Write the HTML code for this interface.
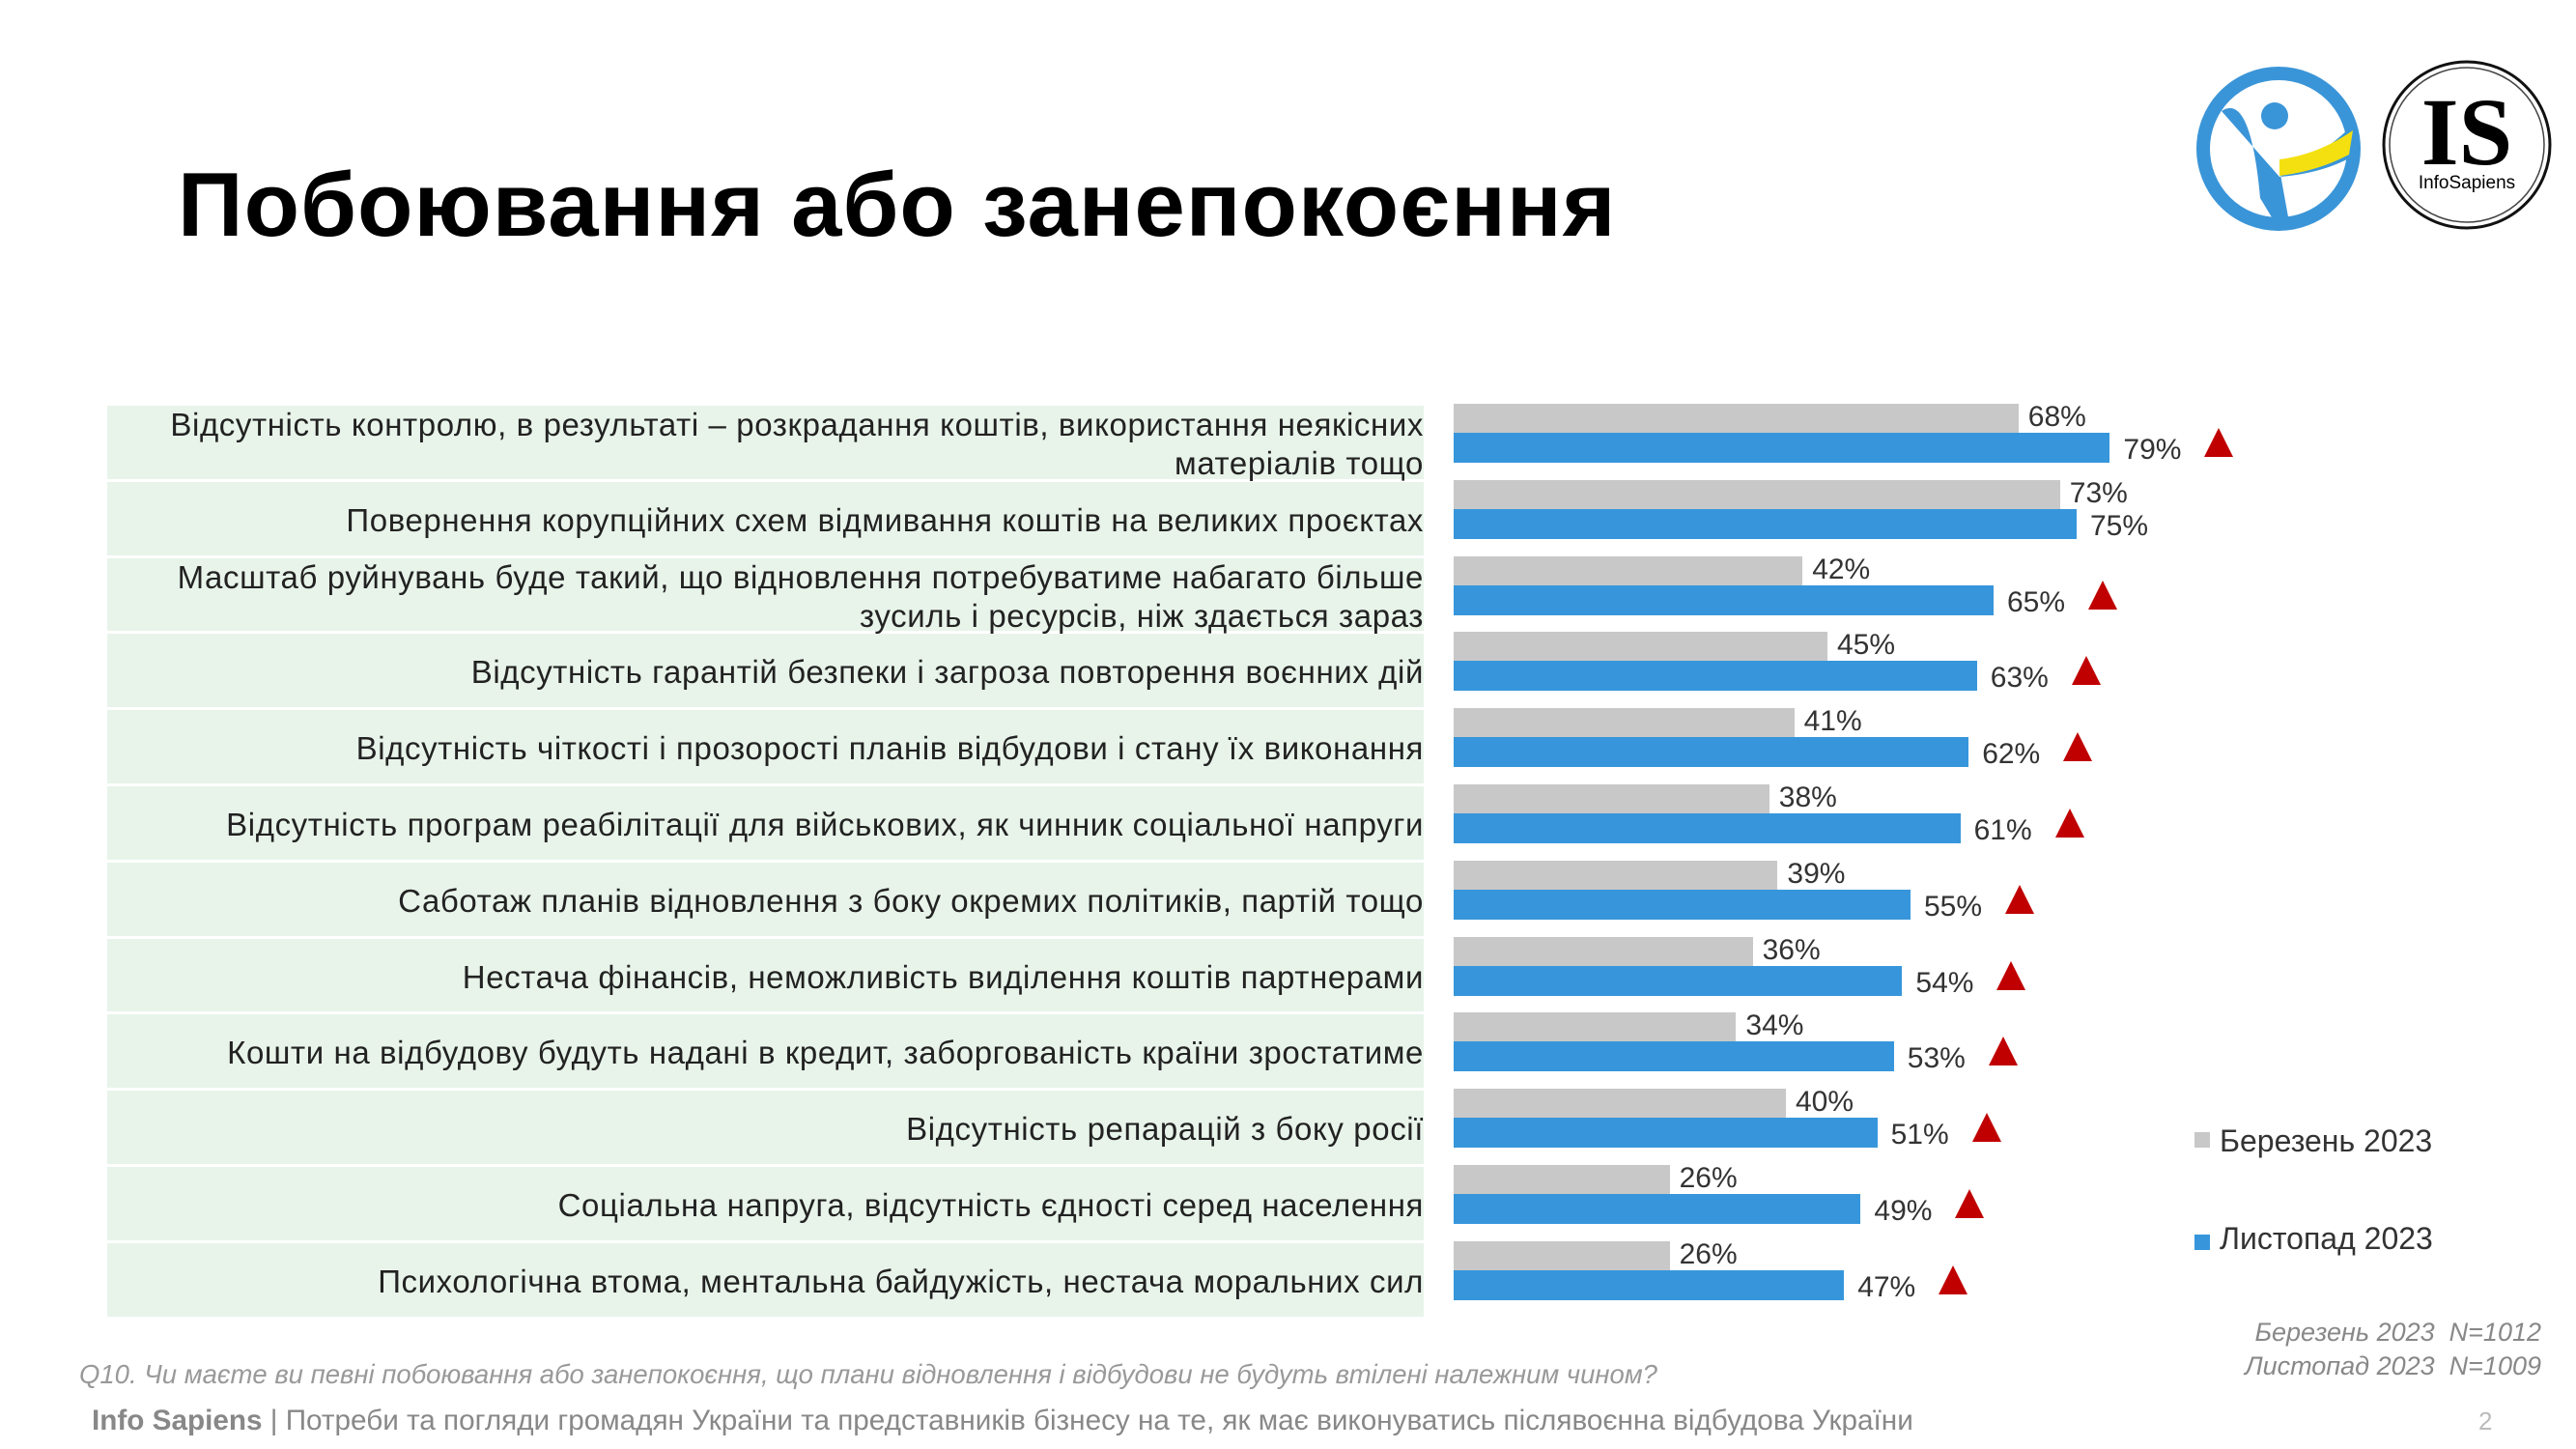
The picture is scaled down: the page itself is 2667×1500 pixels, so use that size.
<!DOCTYPE html>
<html><head><meta charset="utf-8">
<style>
body{margin:0;width:2667px;height:1500px;background:#fff;position:relative;overflow:hidden;font-family:"Liberation Sans","DejaVu Sans",sans-serif;}
.abs{position:absolute;}
#title{left:184px;top:158px;font-size:94px;font-weight:900;color:#000;letter-spacing:1px;white-space:nowrap;}
.rowbg{position:absolute;left:111px;width:1363px;background:#e8f4ea;}
.lbl{position:absolute;right:1193px;text-align:right;font-size:33px;letter-spacing:0.6px;color:#222;line-height:40px;white-space:nowrap;}
.val{position:absolute;font-size:30px;color:#333;white-space:nowrap;}
</style></head><body>
<div id="title" class="abs">Побоювання або занепокоєння</div>

<svg class="abs" style="left:2260px;top:55px" width="400" height="200">
 <g>
  <circle cx="99" cy="99" r="78" fill="none" stroke="#3a95d8" stroke-width="14"/>
  <path d="M40 60 Q70 40 80 150 L95 175 L110 175 L100 120 Q140 110 175 75 L170 110 Q140 125 100 128 Z" fill="#3a95d8"/>
  <path d="M100 110 Q140 105 176 80 L172 105 Q140 122 100 127 Z" fill="#f4e010"/>
  <circle cx="95" cy="65" r="14" fill="#3a95d8"/>
 </g>
 <g>
  <circle cx="294" cy="95" r="86" fill="none" stroke="#111" stroke-width="3"/>
  <circle cx="294" cy="95" r="80" fill="none" stroke="#444" stroke-width="1.5"/>
  <text x="294" y="115" text-anchor="middle" font-family="Liberation Serif" font-weight="bold" font-size="100">IS</text>
  <text x="294" y="140" text-anchor="middle" font-family="Liberation Sans" font-size="19">InfoSapiens</text>
 </g>
</svg>

<div id="chart"></div>

<div class="abs" style="left:2272px;top:1172px;width:16px;height:16px;background:#c8c8c8"></div>
<div class="abs" style="left:2298px;top:1163px;font-size:32px;color:#333">Березень 2023</div>
<div class="abs" style="left:2272px;top:1278px;width:16px;height:16px;background:#3796db"></div>
<div class="abs" style="left:2298px;top:1264px;font-size:32px;color:#333">Листопад 2023</div>

<div class="abs" style="right:36px;top:1362px;font-size:27px;color:#888;font-style:italic;text-align:right;line-height:35px">Березень 2023&nbsp; N=1012<br>Листопад 2023&nbsp; N=1009</div>
<div class="abs" style="left:82px;top:1407px;font-size:27.5px;color:#999;font-style:italic;white-space:nowrap">Q10. Чи маєте ви певні побоювання або занепокоєння, що плани відновлення і відбудови не будуть втілені належним чином?</div>
<div class="abs" style="left:95px;top:1454px;font-size:29.7px;color:#888;white-space:nowrap"><b>Info Sapiens</b> | Потреби та погляди громадян України та представників бізнесу на те, як має виконуватись післявоєнна відбудова України</div>
<div class="abs" style="left:2566px;top:1456px;font-size:26px;color:#bbb">2</div>

<script>
const categories=[
"Відсутність контролю, в результаті – розкрадання коштів, використання неякісних<br>матеріалів тощо",
"Повернення корупційних схем відмивання коштів на великих проєктах",
"Масштаб руйнувань буде такий, що відновлення потребуватиме набагато більше<br>зусиль і ресурсів, ніж здається зараз",
"Відсутність гарантій безпеки і загроза повторення воєнних дій",
"Відсутність чіткості і прозорості планів відбудови і стану їх виконання",
"Відсутність програм реабілітації для військових, як чинник соціальної напруги",
"Саботаж планів відновлення з боку окремих політиків, партій тощо",
"Нестача фінансів, неможливість виділення коштів партнерами",
"Кошти на відбудову будуть надані в кредит, заборгованість країни зростатиме",
"Відсутність репарацій з боку росії",
"Соціальна напруга, відсутність єдності серед населення",
"Психологічна втома, ментальна байдужість, нестача моральних сил"];
const march=[68,73,42,45,41,38,39,36,34,40,26,26];
const november=[79,75,65,63,62,61,55,54,53,51,49,47];
const increased=[true,false,true,true,true,true,true,true,true,true,true,true];

const x0=1505, pxPer=8.6, top0=418, pitch=78.8, barH=30;
const xs=v=>x0+v*pxPer;
const ys=i=>top0+i*pitch;
const root=document.getElementById('chart');
categories.forEach((c,i)=>{
  const y=ys(i);
  const bg=document.createElement('div');
  bg.className='rowbg';
  
  
  bg.style.top=(y+2)+'px';bg.style.height=(pitch-3)+'px';
  root.appendChild(bg);
  const l=document.createElement('div');
  l.className='lbl';
  
  
  l.innerHTML=c;
  const two=c.indexOf('<br>')>=0;
  l.style.top=(two? y+2 : y+22)+'px';
  root.appendChild(l);
  const g=document.createElement('div');
  g.className='abs';
  
  
  g.style.cssText=`left:${x0}px;top:${y}px;width:${xs(march[i])-x0}px;height:${barH}px;background:#c8c8c8`;
  root.appendChild(g);
  const b=document.createElement('div');
  b.className='abs';
  
  
  b.style.cssText=`left:${x0}px;top:${y+barH}px;width:${xs(november[i])-x0}px;height:${barH+1}px;background:#3796db`;
  root.appendChild(b);
  const gv=document.createElement('div');
  gv.className='val';
  
  
  gv.textContent=march[i]+'%';
  gv.style.left=(xs(march[i])+10)+'px';gv.style.top=(y-3)+'px';
  root.appendChild(gv);
  const bv=document.createElement('div');
  bv.className='val';
  
  
  bv.textContent=november[i]+'%';
  bv.style.left=(xs(november[i])+14)+'px';bv.style.top=(y+barH+1)+'px';
  root.appendChild(bv);
  if(increased[i]){
    const t=document.createElement('div');
    t.className='abs';
    
    
    t.style.cssText=`left:${xs(november[i])+98}px;top:${y+25}px;width:0;height:0;border-left:15px solid transparent;border-right:15px solid transparent;border-bottom:30px solid #c00000`;
    root.appendChild(t);
  }
});
</script>
</body></html>
